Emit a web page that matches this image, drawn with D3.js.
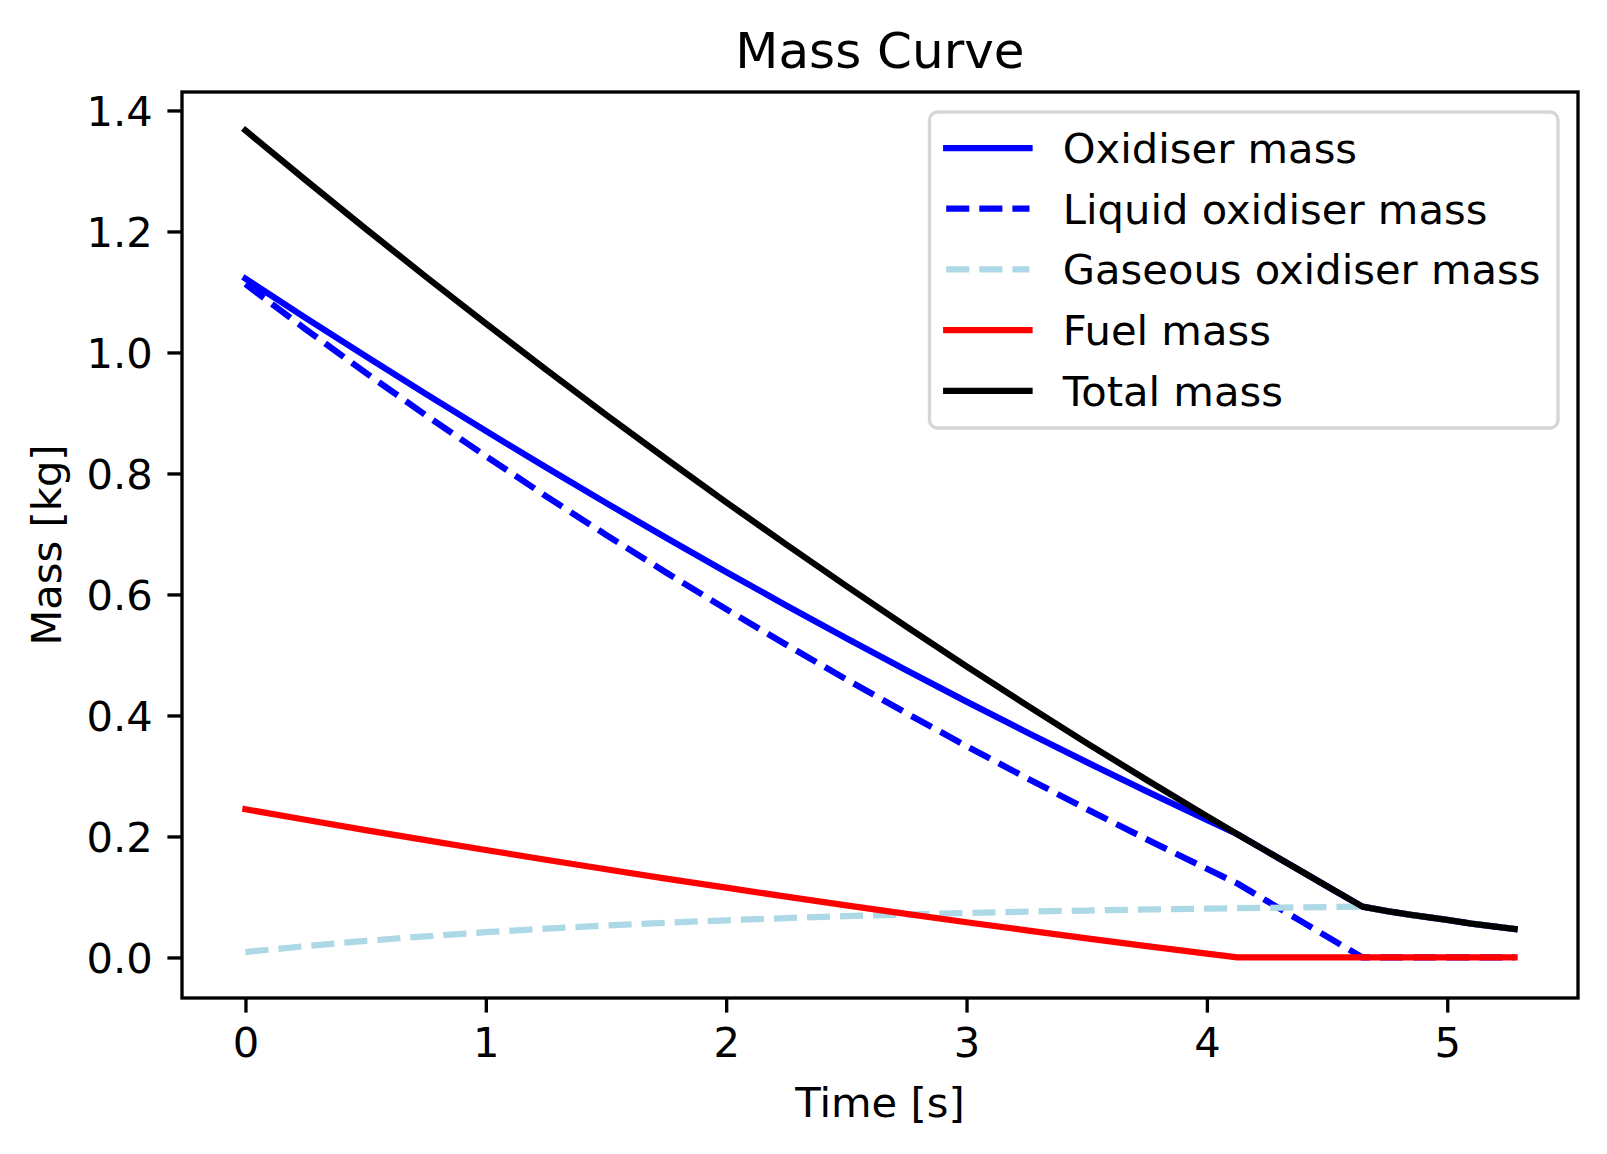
<!DOCTYPE html>
<html>
<head>
<meta charset="utf-8">
<script src="https://cdn.jsdelivr.net/npm/d3@7"></script>
<style>
  html, body { margin: 0; padding: 0; background: #fff; }
  svg { display: block; font-family: "DejaVu Sans", sans-serif; }
</style>
</head>
<body>
<svg id="chart" width="1607" height="1154"></svg>
<script>
// ---- data ----
const time = [0, 0.25, 0.5, 0.75, 1, 1.25, 1.5, 1.75, 2, 2.25, 2.5, 2.75, 3, 3.25, 3.5, 3.75, 4, 4.127, 4.25, 4.4, 4.5, 4.647, 4.75, 4.85, 5, 5.1, 5.2, 5.28];
const oxidiserMass = [1.122, 1.0573, 0.9938, 0.9314, 0.8703, 0.8102, 0.7514, 0.6937, 0.6372, 0.5819, 0.5278, 0.4748, 0.4229, 0.3723, 0.3228, 0.2745, 0.2274, 0.2037, 0.1754, 0.1408, 0.1178, 0.0840, 0.0765, 0.0705, 0.0620, 0.0560, 0.0510, 0.0472];
const liquidOxidiserMass = [1.113, 1.0385, 0.9664, 0.8964, 0.8286, 0.7626, 0.6986, 0.6363, 0.5757, 0.5168, 0.4596, 0.4038, 0.3494, 0.2966, 0.2452, 0.1952, 0.1466, 0.1222, 0.0933, 0.0580, 0.0345, 0, 0, 0, 0, 0, 0, 0];
const gaseousOxidiserMass = [0.009, 0.0188, 0.0274, 0.0350, 0.0417, 0.0476, 0.0528, 0.0574, 0.0615, 0.0651, 0.0682, 0.0710, 0.0735, 0.0757, 0.0776, 0.0793, 0.0808, 0.0815, 0.0821, 0.0828, 0.0833, 0.0840, 0.0765, 0.0705, 0.0620, 0.0560, 0.0510, 0.0472];
const fuelMass = [0.245, 0.2277, 0.2106, 0.1940, 0.1776, 0.1615, 0.1458, 0.1304, 0.1153, 0.1006, 0.0861, 0.0720, 0.0582, 0.0448, 0.0316, 0.0188, 0.0063, 0, 0, 0, 0, 0, 0, 0, 0, 0, 0, 0];
const totalMass = [1.367, 1.2850, 1.2044, 1.1254, 1.0479, 0.9717, 0.8972, 0.8241, 0.7525, 0.6825, 0.6139, 0.5468, 0.4811, 0.4171, 0.3544, 0.2933, 0.2337, 0.2037, 0.1754, 0.1408, 0.1178, 0.0840, 0.0765, 0.0705, 0.0620, 0.0560, 0.0510, 0.0472];

const xTicks = [0, 1, 2, 3, 4, 5];
const xTickLabels = ["0", "1", "2", "3", "4", "5"];
const yTicks = [0, 0.2, 0.4, 0.6, 0.8, 1.0, 1.2, 1.4];
const yTickLabels = ["0.0", "0.2", "0.4", "0.6", "0.8", "1.0", "1.2", "1.4"];

const seriesNames = ["Oxidiser mass", "Liquid oxidiser mass", "Gaseous oxidiser mass", "Fuel mass", "Total mass"];
const seriesValues = [oxidiserMass, liquidOxidiserMass, gaseousOxidiserMass, fuelMass, totalMass];
const seriesColors = ["#0000ff", "#0000ff", "#add8e6", "#ff0000", "#000000"];
const seriesDashed = [false, true, true, false, false];

const titleText = "Mass Curve";
const xLabelText = "Time [s]";
const yLabelText = "Mass [kg]";

// ---- layout ----
const plot = { left: 182, right: 1578, top: 92, bottom: 998 };
const lw = 6.25;
const dash = "23.1,10";
const fs = 41.67;

const svg = d3.select("#chart");

const x = d3.scaleLinear().domain([-0.264, 5.544]).range([plot.left, plot.right]);
const y = d3.scaleLinear().domain([-0.067, 1.4305]).range([plot.bottom, plot.top]);

svg.append("defs").append("clipPath").attr("id", "clip")
  .append("rect")
  .attr("x", plot.left).attr("y", plot.top)
  .attr("width", plot.right - plot.left).attr("height", plot.bottom - plot.top);

// lines
const lineGen = vals => d3.line()
  .x((d, i) => x(time[i]))
  .y((d, i) => y(vals[i]))(vals);

const linesG = svg.append("g").attr("clip-path", "url(#clip)");
seriesValues.forEach((vals, k) => {
  linesG.append("path")
    .attr("d", lineGen(vals))
    .attr("fill", "none")
    .attr("stroke", seriesColors[k])
    .attr("stroke-width", lw)
    .attr("stroke-linejoin", "round")
    .attr("stroke-linecap", seriesDashed[k] ? "butt" : "square")
    .attr("stroke-dasharray", seriesDashed[k] ? dash : null);
});

// axes
const xAxis = d3.axisBottom(x).tickValues(xTicks)
  .tickFormat((d, i) => xTickLabels[i]).tickSize(14.6).tickPadding(14.6).tickSizeOuter(0);
const yAxis = d3.axisLeft(y).tickValues(yTicks)
  .tickFormat((d, i) => yTickLabels[i]).tickSize(14.6).tickPadding(14.6).tickSizeOuter(0);

const gx = svg.append("g").attr("transform", `translate(0,${plot.bottom})`).call(xAxis);
const gy = svg.append("g").attr("transform", `translate(${plot.left},0)`).call(yAxis);

[gx, gy].forEach(g => {
  g.select(".domain").remove();
  g.selectAll(".tick line").attr("stroke", "#000").attr("stroke-width", 3.33);
  g.selectAll(".tick text").attr("fill", "#000")
    .style("font-family", "DejaVu Sans").style("font-size", fs + "px");
});
gx.selectAll(".tick text").attr("dy", "0.72em");
gy.selectAll(".tick text").attr("dy", "0.36em");

// frame
svg.append("rect")
  .attr("x", plot.left).attr("y", plot.top)
  .attr("width", plot.right - plot.left).attr("height", plot.bottom - plot.top)
  .attr("fill", "none").attr("stroke", "#000").attr("stroke-width", 3.33)
  .attr("stroke-linejoin", "miter");

// title and labels
svg.append("text")
  .attr("x", (plot.left + plot.right) / 2).attr("y", 68)
  .attr("text-anchor", "middle").style("font-size", "50px").attr("fill", "#000")
  .text(titleText);

svg.append("text")
  .attr("x", (plot.left + plot.right) / 2).attr("y", 1117)
  .attr("text-anchor", "middle").style("font-size", fs + "px").attr("fill", "#000")
  .text(xLabelText);

svg.append("text")
  .attr("transform", `translate(61,${(plot.top + plot.bottom) / 2}) rotate(-90)`)
  .attr("text-anchor", "middle").style("font-size", fs + "px").attr("fill", "#000")
  .text(yLabelText);

// legend
const legend = { x: 929.5, y: 112, w: 628.5, h: 316, rowStart: 148, rowStep: 60.7 };
const lg = svg.append("g");
lg.append("rect")
  .attr("x", legend.x).attr("y", legend.y)
  .attr("width", legend.w).attr("height", legend.h)
  .attr("rx", 8).attr("ry", 8)
  .attr("fill", "#fff").attr("fill-opacity", 0.8)
  .attr("stroke", "#d6d6d6").attr("stroke-width", 3.33);

seriesNames.forEach((name, k) => {
  const cy = legend.rowStart + k * legend.rowStep;
  lg.append("line")
    .attr("x1", legend.x + 16.7).attr("x2", legend.x + 100)
    .attr("y1", cy).attr("y2", cy)
    .attr("stroke", seriesColors[k]).attr("stroke-width", lw)
    .attr("stroke-linecap", seriesDashed[k] ? "butt" : "square")
    .attr("stroke-dasharray", seriesDashed[k] ? dash : null);
  lg.append("text")
    .attr("x", legend.x + 133.3).attr("y", cy + 15)
    .style("font-size", fs + "px").attr("fill", "#000")
    .text(name);
});
</script>
</body>
</html>
